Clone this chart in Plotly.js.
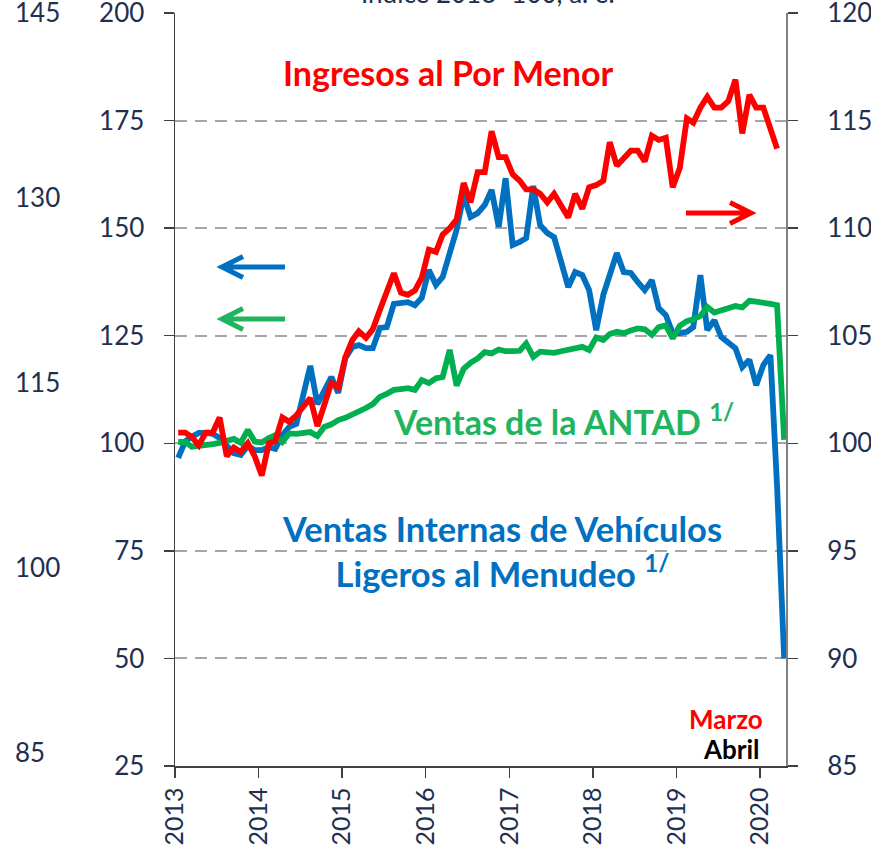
<!DOCTYPE html>
<html>
<head>
<meta charset="utf-8">
<script src="https://cdn.plot.ly/plotly-3.0.1.min.js"></script>
<style>html,body{margin:0;padding:0;background:#fff;}</style>
</head>
<body>
<div id="chart" style="width:871px;height:850px;"></div>
<script>
// Monthly index values, Jan 2013 onward
const ingresosMenor = [100.5,100.5,100.3,99.9,100.5,100.5,101.2,99.4,99.8,99.6,100.0,99.4,
  98.5,100.0,100.1,101.2,101.0,101.3,101.7,102.1,100.8,101.9,102.8,102.6,
  104.0,104.8,105.2,104.9,105.3,106.2,107.0,107.9,107.0,106.9,107.1,107.7,
  109.0,108.9,109.7,110.0,110.4,112.1,111.2,112.6,112.6,114.5,113.3,113.3,
  112.5,112.2,111.8,111.8,111.6,111.2,111.6,111.1,110.5,111.6,110.9,111.9,
  112.0,112.2,114.0,112.9,113.2,113.6,113.6,113.1,114.3,114.1,114.2,111.9,
  112.8,115.1,114.9,115.6,116.1,115.6,115.6,115.9,116.9,114.4,116.2,115.6,
  115.6,114.6,113.7];
const vehiculos = [96.6,100.5,101.5,102.4,102.4,102.2,101.2,99.4,97.7,97.3,99.4,98.4,
  98.4,99.1,98.7,101.9,103.8,104.5,111.7,118.0,109.1,112.4,115.4,111.7,
  119.8,122.4,122.8,122.1,122.1,126.8,127.0,132.4,132.6,132.8,132.1,133.8,
  140.3,136.8,138.6,144.2,149.6,157.7,152.6,153.5,155.4,158.9,150.3,161.6,
  146.1,146.8,147.7,159.8,150.7,148.9,147.9,142.1,136.3,139.8,139.1,135.6,
  126.3,134.5,139.6,144.2,139.8,139.6,137.5,135.6,137.9,131.4,129.8,125.6,
  125.6,125.9,127.0,139.1,126.3,128.6,124.7,123.3,122.1,117.7,119.4,113.5,
  118.2,120.5,90.0,50.0];
const antad = [100.3,100.3,99.2,99.3,99.4,99.8,100.1,100.4,101.0,100.1,103.1,100.4,
  100.2,101.2,101.9,100.3,102.3,102.2,102.3,102.6,101.7,103.8,104.4,105.4,
  105.9,106.6,107.3,108.2,109.1,110.8,111.5,112.4,112.6,112.8,112.4,114.7,
  114.0,115.1,115.4,121.7,113.4,117.3,118.7,119.7,121.2,120.9,121.8,121.4,
  121.4,121.5,123.2,120.1,121.3,121.3,121.0,121.4,121.7,121.8,122.4,121.7,
  124.6,124.0,125.4,125.9,125.6,126.2,126.7,126.5,125.2,127.0,127.4,124.4,
  127.3,128.4,128.8,129.6,131.7,130.4,131.0,131.6,131.9,131.6,133.1,132.9,
  132.5,132.4,132.1,100.8];
const leftTicks = [25,50,75,100,125,150,175,200];
const rightTicks = [85,90,95,100,105,110,115,120];
const farLeftTicks = [85,100,115,130,145];
const yearTicks = ['2013','2014','2015','2016','2017','2018','2019','2020'];

// month categories (mid-month dates)
const months = [];
for (let i = 0; i < vehiculos.length; i++) {
  const y = 2013 + Math.floor(i / 12);
  const m = (i % 12) + 1;
  months.push(y + '-' + String(m).padStart(2, '0') + '-15');
}

const W = 871, H = 850;
const ML = 0, MR = 85, MT = 13, MB = 84;
const PW = W - ML - MR, PH = H - MT - MB;
const px = x => (x - ML) / PW;
const py = y => (H - MB - y) / PH;

const navy = '#1e2f4f';
const blue = '#0070c0', red = '#ff0000', green = '#00b050', greenText = '#22b35e';

const traces = [
  {x: [months[0]], y: [100], yaxis: 'y3', type: 'scatter', mode: 'markers',
   marker: {opacity: 0, size: 1}, hoverinfo: 'skip', showlegend: false},
  {x: months, y: vehiculos, type: 'scatter', mode: 'lines', yaxis: 'y',
   line: {color: blue, width: 5.8}, name: 'Vehículos'},
  {x: months, y: antad, type: 'scatter', mode: 'lines', yaxis: 'y',
   line: {color: green, width: 5.8}, name: 'ANTAD'},
  {x: months.slice(0, ingresosMenor.length), y: ingresosMenor, type: 'scatter', mode: 'lines', yaxis: 'y2',
   line: {color: red, width: 5.8}, name: 'Ingresos'}
];

function arrowPath(x0, x1, y, dir) {
  const tip = dir < 0 ? x0 : x1;
  const armX = tip - dir * 21;
  return 'M' + px(x0) + ',' + py(y) + ' L' + px(x1) + ',' + py(y) +
    ' M' + px(armX) + ',' + py(y - 10.5) + ' L' + px(tip) + ',' + py(y) + ' L' + px(armX) + ',' + py(y + 10.5);
}

const shapes = [
  {type: 'path', xref: 'paper', yref: 'paper', path: arrowPath(222, 285, 267, -1), line: {color: blue, width: 5}},
  {type: 'path', xref: 'paper', yref: 'paper', path: arrowPath(222, 285, 319, -1), line: {color: greenText, width: 5}},
  {type: 'path', xref: 'paper', yref: 'paper', path: arrowPath(686, 751, 213, 1), line: {color: red, width: 5}}
];

const annotations = [
  {text: 'Índice 2013=100, a. e.', xref: 'paper', yref: 'paper', x: px(488), y: py(-7), showarrow: false,
   font: {size: 26, color: navy}, xanchor: 'center', yanchor: 'middle'},
  {text: '<b>Ingresos al Por Menor</b>', xref: 'paper', yref: 'paper', x: px(448), y: py(72), showarrow: false,
   font: {size: 34, color: red}, xanchor: 'center', yanchor: 'middle'},
  {text: '<b>Ventas de la ANTAD <sup>1/</sup></b>', xref: 'paper', yref: 'paper', x: px(563), y: py(420), showarrow: false,
   font: {size: 34, color: greenText}, xanchor: 'center', yanchor: 'middle'},
  {text: '<b>Ventas Internas de Vehículos</b><br><b>Ligeros al Menudeo <sup>1/</sup></b>', xref: 'paper', yref: 'paper',
   x: px(502), y: py(551), showarrow: false, align: 'center',
   font: {size: 34.5, color: blue}, xanchor: 'center', yanchor: 'middle'},
  {text: '<b>Marzo</b>', xref: 'paper', yref: 'paper', x: px(765), y: py(719), showarrow: false,
   font: {size: 26, color: red}, xanchor: 'right', yanchor: 'middle'},
  {text: '<b>Abril</b>', xref: 'paper', yref: 'paper', x: px(762), y: py(749), showarrow: false,
   font: {size: 26, color: '#000000'}, xanchor: 'right', yanchor: 'middle'}
];

const layout = {
  width: W, height: H,
  margin: {l: ML, r: MR, t: MT, b: MB, pad: 0},
  paper_bgcolor: '#ffffff', plot_bgcolor: '#ffffff',
  showlegend: false,
  font: {family: 'Lato, "Open Sans", sans-serif', color: navy, size: 26},
  xaxis: {
    type: 'date', domain: [175 / PW, 1], range: ['2013-01-01', '2020-04-23'],
    tickvals: yearTicks.map(y => y + '-01-01'), ticktext: yearTicks,
    tickangle: -90, ticks: 'outside', ticklen: 10, tickwidth: 1.5, tickcolor: '#404040',
    showline: true, linecolor: '#404040', linewidth: 1.5,
    showgrid: false, zeroline: false, tickfont: {size: 25, color: navy}, ticklabeloverflow: 'allow'
  },
  yaxis: {
    range: [24.995, 200.005], tickvals: leftTicks, ticks: 'outside', ticklen: 10, tickwidth: 1.5, tickcolor: '#404040',
    showline: true, linecolor: '#404040', linewidth: 1.5,
    showgrid: true, gridcolor: '#a6a6a6', gridwidth: 2, griddash: '12px,8px', zeroline: false,
    ticklabelstandoff: 14, tickfont: {size: 26, color: navy}, ticklabeloverflow: 'allow'
  },
  yaxis2: {
    overlaying: 'y', side: 'right', anchor: 'x', range: [84.999, 120.001], tickvals: rightTicks,
    ticks: 'outside', ticklen: 10, tickwidth: 1.5, tickcolor: '#404040',
    showline: true, linecolor: '#808080', linewidth: 2,
    showgrid: false, zeroline: false, ticklabelstandoff: 24, tickfont: {size: 26, color: navy},
    ticklabeloverflow: 'allow'
  },
  yaxis3: {
    overlaying: 'y', side: 'left', anchor: 'free', position: 0, range: [83.93, 145.002],
    tickvals: farLeftTicks, ticks: '', showline: false, showgrid: false, zeroline: false,
    ticklabelposition: 'inside', ticklabelstandoff: 11, tickfont: {size: 26, color: navy},
    ticklabeloverflow: 'allow'
  },
  shapes: shapes,
  annotations: annotations
};

Plotly.newPlot('chart', traces, layout, {displayModeBar: false, staticPlot: true});
</script>
</body>
</html>
